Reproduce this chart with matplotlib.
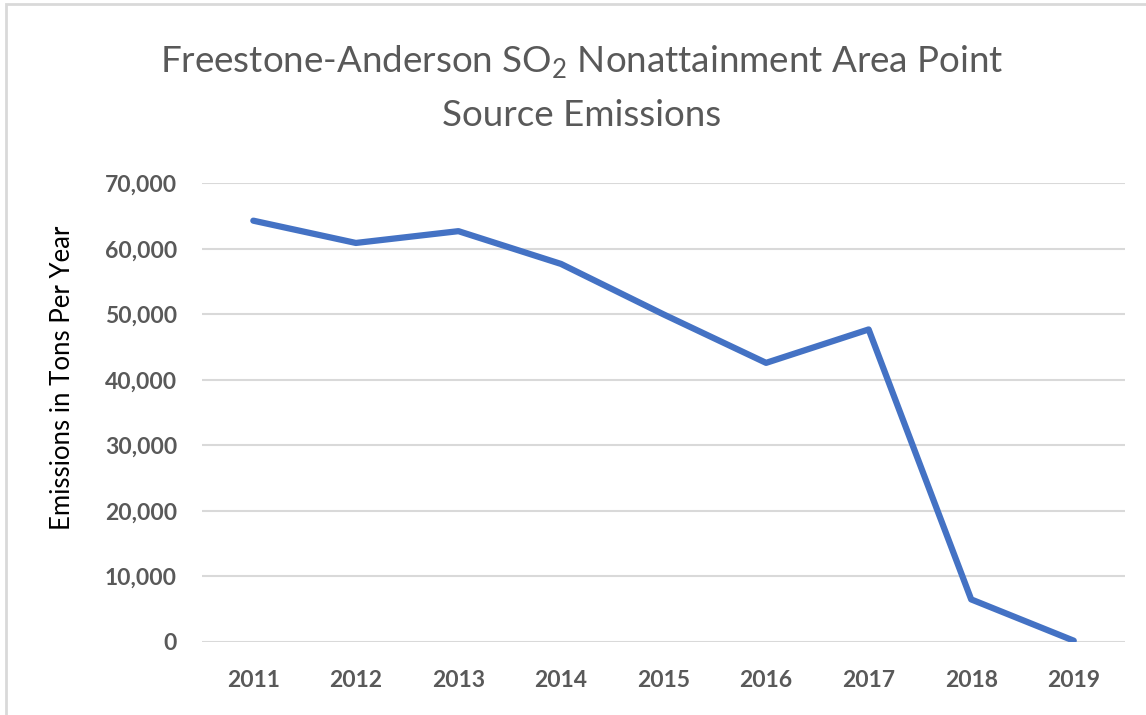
import matplotlib.pyplot as plt
from matplotlib.patches import Rectangle
from matplotlib.ticker import FuncFormatter

# data
years = ['2011', '2012', '2013', '2014', '2015', '2016', '2017', '2018', '2019']
emissions = [64300, 60900, 62700, 57700, 50000, 42600, 47700, 6500, 200]

plt.rcParams['font.family'] = ['Lato', 'DejaVu Sans']
plt.rcParams['mathtext.fontset'] = 'custom'
plt.rcParams['mathtext.rm'] = 'Lato'

grey = '#595959'

fig = plt.figure(figsize=(11.46, 7.15), dpi=100)
ax = fig.add_axes([0.1763, 0.1021, 0.9817 - 0.1763, 0.7436 - 0.1021])

x = list(range(len(years)))
ax.plot(x, emissions, color='#4472C4', lw=4.5, solid_capstyle='round')

ax.set_xlim(-0.5, len(years) - 0.5)
ax.set_ylim(0, 70000)
ax.set_yticks(range(0, 70001, 10000))
ax.set_xticks(x)
ax.set_xticklabels(years)
ax.yaxis.set_major_formatter(FuncFormatter(lambda v, p: f'{int(v):,}'))

ax.grid(axis='y', color='#d9d9d9', lw=1.5)
ax.set_axisbelow(True)
for s in ax.spines.values():
    s.set_visible(False)
ax.tick_params(length=0, labelcolor=grey, labelsize=16.5)
ax.tick_params(axis='y', pad=18)
ax.tick_params(axis='x', pad=20)
for lab in ax.get_xticklabels() + ax.get_yticklabels():
    lab.set_fontweight('bold')

ax.set_ylabel('Emissions in Tons Per Year', fontsize=18.5, color='black')
ax.yaxis.set_label_coords(-0.138, 0.575)

# title in two lines
fig.text(582 / 1146, 1 - 62 / 715, r'Freestone-Anderson SO$_\mathregular{2}$ Nonattainment Area Point',
         ha='center', va='center', fontsize=26.5, color=grey)
fig.text(582 / 1146, 1 - 116 / 715, 'Source Emissions',
         ha='center', va='center', fontsize=26.5, color=grey)

# chart border
fig.patches.append(Rectangle((6 / 1146, -0.05), 1.1, 1 - 4 / 715 + 0.05, transform=fig.transFigure,
                             fill=False, edgecolor='#d9d9d9', lw=2))

fig.savefig('out.png', dpi=100)
